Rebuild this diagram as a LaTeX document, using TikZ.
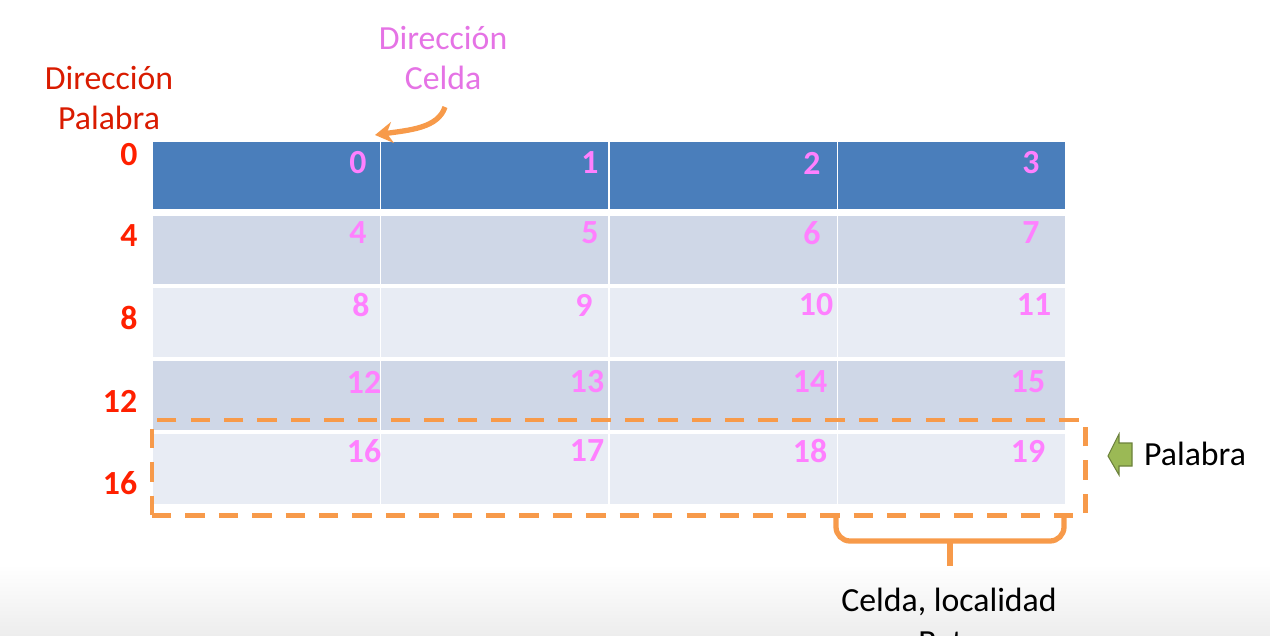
\documentclass[tikz,border=0pt]{standalone}
\usepackage{fontspec}
\usepackage{xcolor}
\setmainfont{Carlito}
\usetikzlibrary{arrows.meta}
\definecolor{filatop}{HTML}{4A7EBB}
\definecolor{filados}{HTML}{CFD7E7}
\definecolor{filatres}{HTML}{E8ECF4}
\definecolor{rosa}{HTML}{FF80FF}
\definecolor{rojo}{HTML}{FF2000}
\definecolor{naranja}{HTML}{F79A4A}
\definecolor{verde}{HTML}{9BB955}
\begin{document}
\begin{tikzpicture}[x=0.01cm,y=-0.01cm,
  celda/.style={draw=white,line width=0.5pt,inner sep=0,outer sep=0,anchor=north west,minimum width=2.285cm},
  numcelda/.style={text=rosa,font=\fontsize{9.6}{10}\selectfont\bfseries,inner sep=0},
  numpalabra/.style={text=rojo,font=\fontsize{9.6}{10}\selectfont\bfseries,inner sep=0},
  titulo/.style={align=center,font=\fontsize{9.6}{11.4}\selectfont,inner sep=0}]
\useasboundingbox (0,0) rectangle (1270,635);
\shade[top color=white,bottom color=black!7] (0,565) rectangle (1270,635);
% filas de celdas
\foreach \fila/\y/\alto/\crlr in {0/141/0.69/filatop,1/215/0.70/filados,2/287/0.71/filatres,3/360/0.71/filados,4/433/0.72/filatres}
{ \foreach \col/\x in {0/152,1/380.5,2/609,3/837.5}
  { \node [celda,fill=\crlr,minimum height=\alto cm] (c\fila\col) at (\x,\y) {};}}
% direcciones de celda
\foreach \num/\x/\y in {0/358/163,1/590/163,2/812/163,3/1031/163,4/358/233,5/590/233,6/812/233,7/1031/233,8/361/305,9/584/305,10/816/305,11/1034/305,12/364/382,13/587/382,14/810/382,15/1028/382,16/364/451,17/587/451,18/810/451,19/1028/451}
{ \node [numcelda] (n\num) at (\x,\y) {\num};}
% direcciones de palabra
\foreach \num/\x/\y in {0/129/155,4/129/236,8/129/318,12/120/401,16/120/483}
{ \node [numpalabra] (p\num) at (\x,\y) {\num};}
\node [titulo,text=rojo!85!black] (dirpalabra) at (109,98) {Dirección\\Palabra};
\node [titulo,text=rosa!90!black] (dircelda) at (443,58) {Dirección\\Celda};
\coordinate (inicio) at (445,107);
\coordinate (punta) at (375,135);
\draw [naranja,line width=1.5pt,-{Stealth[length=5pt,width=6pt]}] (inicio) .. controls (438,128) and (410,130) .. (punta);
% palabra marcada
\node [draw=naranja,line width=1.4pt,dash pattern=on 5.5pt off 4pt,inner sep=0,outer sep=0,minimum width=9.33cm,minimum height=0.95cm,anchor=north west] (marco) at (152,420) {};
\coordinate (llaveA) at (836,516);
\coordinate (llaveB) at (1064,516);
\coordinate (llaveC) at (950,566);
\draw [naranja,line width=1.5pt,rounded corners=4pt] (llaveA) |- (950,541) -| (llaveB);
\draw [naranja,line width=1.5pt] (950,541) -- (llaveC);
\node [titulo] (celdabyte) at (949,602) {Celda, localidad};
\node [titulo,anchor=north] (byte) at (949,631) {Byte};
% flecha verde
\draw [fill=verde,draw=verde!70!black,line width=0.3pt] (1108,456) -- (1119,434) -- (1119,443) -- (1132,443) -- (1132,466) -- (1119,466) -- (1119,475) -- cycle;
\node [titulo] (palabra) at (1195,454) {Palabra};
\end{tikzpicture}
\end{document}
